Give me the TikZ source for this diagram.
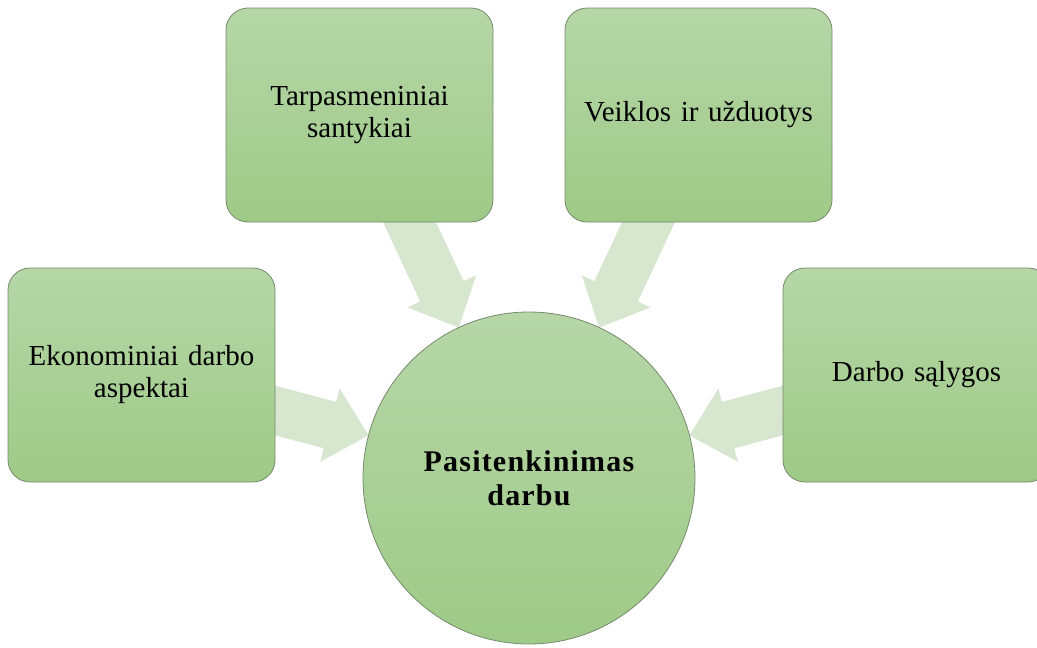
\documentclass[tikz,border=0pt]{standalone}
\usepackage{fontspec}
\setmainfont{Liberation Serif}
\newfontfamily\centrefont[LetterSpace=4]{Liberation Serif}
\usetikzlibrary{calc,backgrounds}

\definecolor{boxtop}{RGB}{182,214,167}
\definecolor{boxbottom}{RGB}{158,202,135}
\definecolor{boxline}{RGB}{118,138,108}
\definecolor{arrowgreen}{RGB}{214,230,207}

\tikzset{
  factor/.style={draw=boxline, line width=0.8pt, rounded corners=22pt,
    top color=boxtop, bottom color=boxbottom,
    minimum width=267pt, minimum height=214pt, inner sep=0pt,
    align=center, text width=250pt,
    font=\fontsize{29}{32}\selectfont},
  centre/.style={draw=boxline, line width=0.8pt, circle,
    top color=boxtop, bottom color=boxbottom,
    minimum size=332pt, inner sep=0pt, align=center,
    font=\centrefont\bfseries\fontsize{30}{34}\selectfont},
  arrowfill/.style={fill=arrowgreen}
}

% Wide block arrow from the centre of a box to the rim of the circle
\newcommand\convarrow[2]{%
  \coordinate (tip) at ($(#2.center)!166pt!(#1.center)$);
  \coordinate (hb) at ($(tip)!40pt!(#1.center)$);
  \fill[arrowfill]
    ($(#1.center)!24pt!90:(tip)$) --
    ($(hb)!24pt!-90:(#1.center)$) --
    ($(hb)!38pt!-90:(#1.center)$) --
    (tip) --
    ($(hb)!38pt!90:(#1.center)$) --
    ($(hb)!24pt!90:(#1.center)$) --
    ($(#1.center)!24pt!-90:(tip)$) -- cycle;
}

\begin{document}
\begin{tikzpicture}[x=1pt,y=-1pt]
  \useasboundingbox (0,0) rectangle (1037,648);
  \clip (0,0) rectangle (1037,648);

  \node[factor] (econ)  at (141.5,375)  {Ekonominiai darbo\\aspektai};
  \node[factor] (inter) at (359.5,115)  {Tarpasmeniniai\\santykiai};
  \node[factor] (tasks) at (698.5,115)  {Veiklos ir užduotys};
  \node[factor] (cond)  at (916.5,375)  {Darbo sąlygos};
  \node[centre] (sat)   at (529,478)    {Pasitenkinimas\\darbu};

  \begin{scope}[on background layer]
    \convarrow{econ}{sat}
    \convarrow{inter}{sat}
    \convarrow{tasks}{sat}
    \convarrow{cond}{sat}
  \end{scope}
\end{tikzpicture}
\end{document}
